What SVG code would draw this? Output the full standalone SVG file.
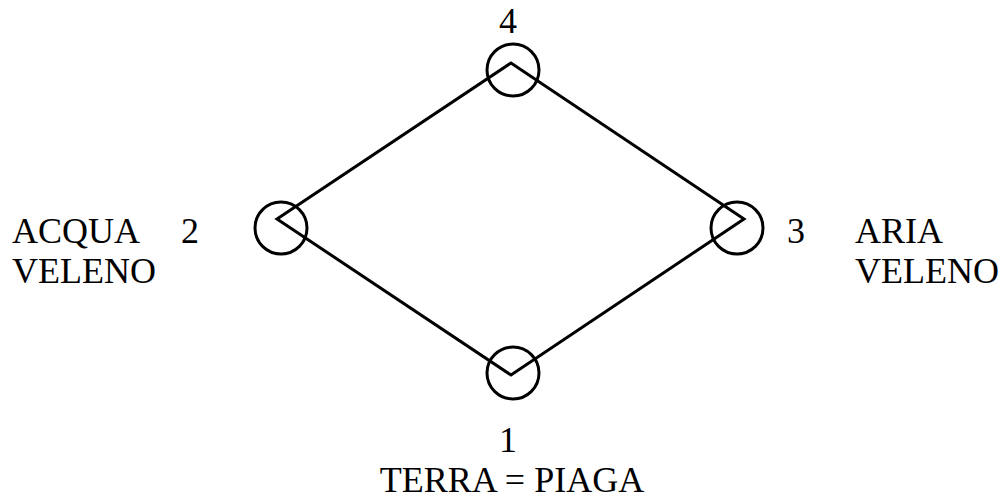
<svg xmlns="http://www.w3.org/2000/svg" width="1001" height="499" viewBox="0 0 1001 499">
<style>
.n{fill:none;stroke:#000;stroke-width:3}
.e{fill:none;stroke:#000;stroke-width:3;stroke-linejoin:miter}
.t{font-family:'Liberation Serif','Times New Roman','DejaVu Serif',serif;font-size:36px;fill:#000}
</style>
<rect width="1001" height="499" fill="#fff"/>
<g id="connectors">
<polygon class="e" points="511,63 277,219 511,375 744,219"/>
</g>
<g id="node4" class="t" font-family="Liberation Serif, serif">
<circle class="n" cx="513" cy="70" r="26"/>
<text x="508" y="33" text-anchor="middle">4</text>
</g>
<g id="node2" class="t" font-family="Liberation Serif, serif">
<circle class="n" cx="281" cy="228" r="26"/>
<text x="12" y="243">ACQUA</text>
<text x="181" y="243">2</text>
<text x="12" y="283">VELENO</text>
</g>
<g id="node3" class="t" font-family="Liberation Serif, serif">
<circle class="n" cx="737" cy="228" r="26"/>
<text x="787" y="243">3</text>
<text x="855" y="243">ARIA</text>
<text x="855" y="283">VELENO</text>
</g>
<g id="node1" class="t" font-family="Liberation Serif, serif">
<circle class="n" cx="513" cy="373" r="26"/>
<text x="508" y="452" text-anchor="middle">1</text>
<text x="512" y="492" text-anchor="middle">TERRA = PIAGA</text>
</g>
</svg>
